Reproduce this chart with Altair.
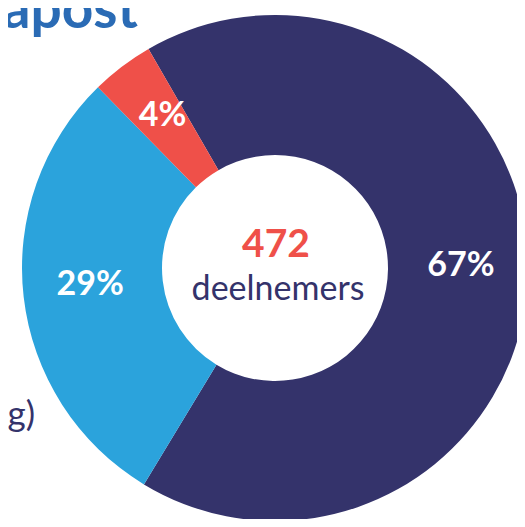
import math
import altair as alt
import pandas as pd

categories = ["A", "B", "C"]
values = [67, 29, 4]
labels = ["67%", "29%", "4%"]
colors = ["#34336B", "#2BA3DC", "#EF5049"]
order_idx = [0, 1, 2]

df = pd.DataFrame({"cat": categories, "value": values, "label": labels, "idx": order_idx})

CX, CY = 267, 260
start = 2 * math.pi - math.pi / 6

theta = alt.Theta("value:Q", stack=True,
                  scale=alt.Scale(domain=[0, 100], range=[start, start + 2 * math.pi]))
color = alt.Color("cat:N", scale=alt.Scale(domain=categories, range=colors), legend=None)

base = alt.Chart(df).encode(theta=theta, order=alt.Order("idx:O"))

arcs = base.mark_arc(outerRadius=253, innerRadius=113, stroke=None).encode(
    color=color, x=alt.value(CX), y=alt.value(CY)
)

pct = base.mark_text(radius=186, font="Lato", fontWeight="bold", fontSize=34,
                     color="white", align="center", baseline="middle", dy=-4).encode(
    text="label:N", x=alt.value(CX), y=alt.value(CY)
)

center_num = alt.Chart(pd.DataFrame({"t": ["472"]})).mark_text(
    font="Lato", fontWeight="bold", fontSize=39, color="#EF5049",
    align="center", baseline="alphabetic").encode(
    text="t:N", x=alt.value(268), y=alt.value(249))

center_lbl = alt.Chart(pd.DataFrame({"t": ["deelnemers"]})).mark_text(
    font="Lato", fontSize=34, color="#34336B",
    align="center", baseline="alphabetic").encode(
    text="t:N", x=alt.value(270), y=alt.value(292))

title = alt.Chart(pd.DataFrame({"t": ["Enquête Schapost"]})).mark_text(
    font="Lato", fontWeight="bold", fontSize=55, color="#2A6BB5",
    align="right", baseline="alphabetic").encode(
    text="t:N", x=alt.value(130), y=alt.value(20))

side = alt.Chart(pd.DataFrame({"t": ["(in opleiding)"]})).mark_text(
    font="Lato", fontSize=35, color="#34336B",
    align="right", baseline="alphabetic").encode(
    text="t:N", x=alt.value(27), y=alt.value(418))

chart = alt.layer(arcs, pct, center_num, center_lbl, title, side).properties(
    width=509, height=511, padding=0,
    autosize=alt.AutoSizeParams(type="none")
).configure_view(stroke=None)

chart.save("out.html", embed_options={"renderer": "svg", "actions": False})
